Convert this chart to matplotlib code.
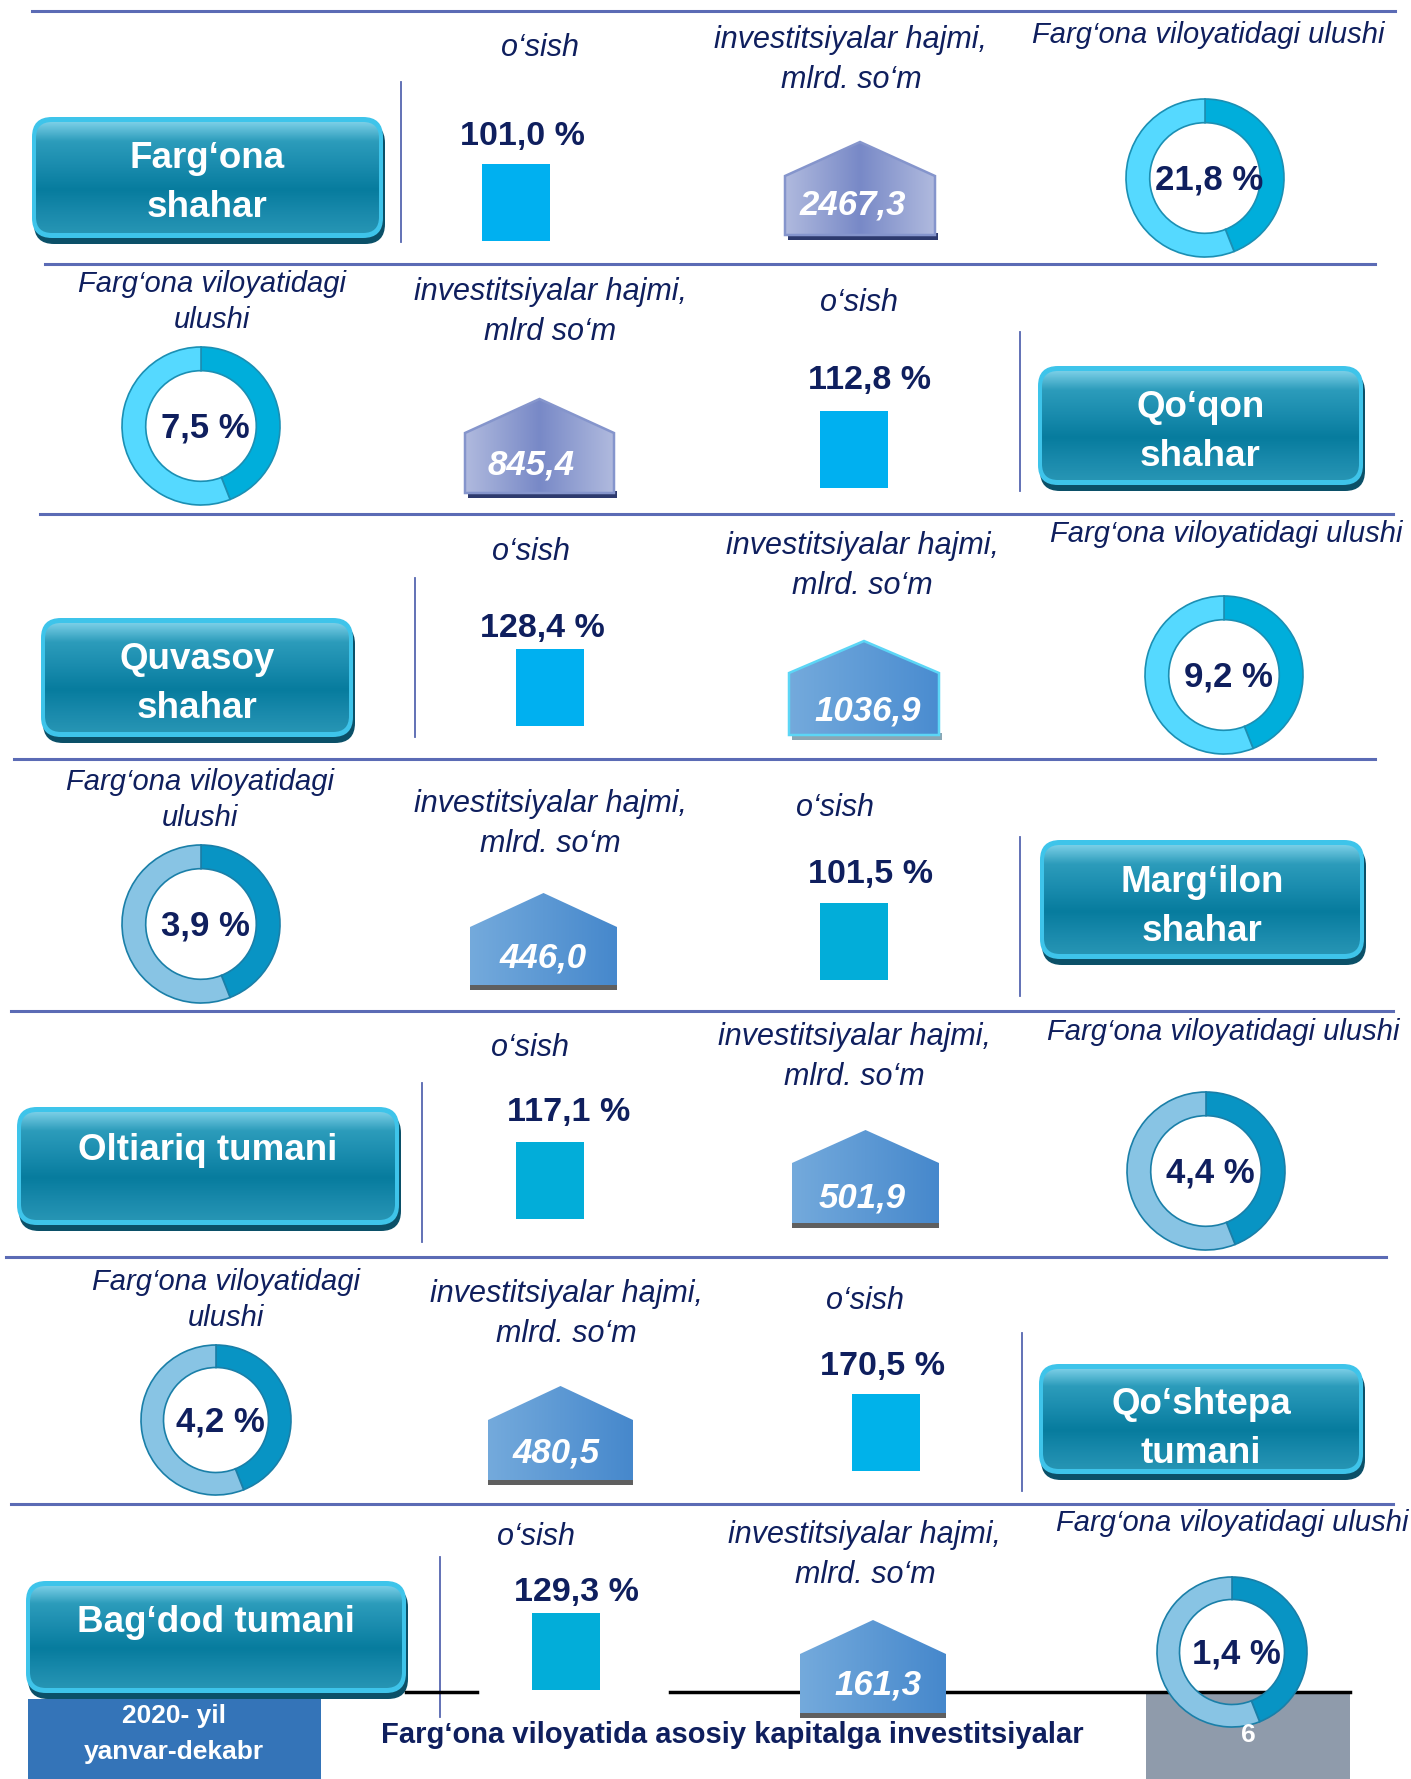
import numpy as np
import matplotlib.pyplot as plt
from matplotlib.patches import FancyBboxPatch, Polygon, Rectangle, Wedge
from matplotlib.colors import LinearSegmentedColormap
from matplotlib import font_manager

# values
districts = ["Farg‘ona\nshahar", "Qo‘qon\nshahar", "Quvasoy\nshahar", "Marg‘ilon\nshahar",
             "Oltiariq tumani", "Qo‘shtepa\ntumani", "Bag‘dod tumani"]
growth = [101.0, 112.8, 128.4, 101.5, 117.1, 170.5, 129.3]      # o'sish, %
invest = [2467.3, 845.4, 1036.9, 446.0, 501.9, 480.5, 161.3]    # mlrd. so'm
share = [21.8, 7.5, 9.2, 3.9, 4.4, 4.2, 1.4]                    # ulushi, %
invest_units = ["mlrd. so‘m", "mlrd so‘m", "mlrd. so‘m", "mlrd. so‘m",
                "mlrd. so‘m", "mlrd. so‘m", "mlrd. so‘m"]

title = "Farg‘ona viloyatida asosiy kapitalga investitsiyalar"
period = "2020- yil\nyanvar-dekabr"
page = "6"

# layout of each block, in pixels of the 1411x1779 slide
rows = [
    dict(btn=(32, 117, 383, 238), bty=183, vline=(401, 82, 242), os=(540, 48), val=(522, 137),
         sq=(482, 164), inv=(851, 60), house=(785, 935, 142, 176, 235), hval=(853, 205),
         shh=(1208, 35), two=False, donut=(1205, 178, 79), sep=(264, 45, 1375)),
    dict(btn=(1038, 366, 1363, 485), bty=432, vline=(1020, 332, 491), os=(859, 303), val=(869, 380),
         sq=(820, 411), inv=(550, 312), house=(465, 614, 399, 433, 493), hval=(531, 465),
         shh=(212, 302), two=True, donut=(201, 426, 79), sep=(514, 40, 1393)),
    dict(btn=(41, 618, 353, 737), bty=684, vline=(415, 578, 737), os=(531, 552), val=(542, 629),
         sq=(516, 649), inv=(862, 566), house=(789, 939, 641, 673, 735), hval=(868, 711),
         shh=(1226, 534), two=False, donut=(1224, 675, 79), sep=(759, 14, 1375)),
    dict(btn=(1040, 840, 1364, 959), bty=907, vline=(1020, 837, 996), os=(835, 808), val=(870, 874),
         sq=(820, 903), inv=(550, 824), house=(470, 617, 893, 927, 985), hval=(543, 958),
         shh=(200, 800), two=True, donut=(201, 924, 79), sep=(1011, 11, 1393)),
    dict(btn=(17, 1107, 399, 1225), bty=1150, vline=(422, 1083, 1242), os=(530, 1048), val=(569, 1112),
         sq=(516, 1142), inv=(854, 1057), house=(792, 939, 1130, 1163, 1223), hval=(862, 1198),
         shh=(1223, 1032), two=False, donut=(1206, 1171, 79), sep=(1257, 6, 1386)),
    dict(btn=(1039, 1364, 1363, 1474), bty=1429, vline=(1022, 1333, 1491), os=(865, 1301), val=(882, 1367),
         sq=(852, 1394), inv=(566, 1314), house=(488, 633, 1386, 1420, 1480), hval=(556, 1453),
         shh=(226, 1300), two=True, donut=(216, 1420, 75), sep=(1504, 11, 1393)),
    dict(btn=(26, 1581, 406, 1693), bty=1623, vline=(440, 1557, 1717), os=(536, 1537), val=(576, 1592),
         sq=(532, 1613), inv=(865, 1555), house=(800, 946, 1620, 1654, 1713), hval=(878, 1685),
         shh=(1232, 1523), two=False, donut=(1232, 1652, 75), sep=None),
]

avail = {f.name for f in font_manager.fontManager.ttflist}
FONT = 'Liberation Sans' if 'Liberation Sans' in avail else 'DejaVu Sans'
plt.rcParams['font.family'] = [FONT, 'DejaVu Sans']

NAVY = '#0f1f5e'
SEP = '#5b6bb5'

W, H = 1411, 1779
fig = plt.figure(figsize=(W / 100, H / 100), dpi=100)
ax = fig.add_axes([0, 0, 1, 1])


def fmt(v):
    return f"{v:.1f}".replace('.', ',')


def gradient_fill(clip, x0, x1, y0, y1, colors, horizontal=False, z=3):
    cmap = LinearSegmentedColormap.from_list('g', colors)
    g = np.linspace(0, 1, 256)
    arr = g.reshape(1, -1) if horizontal else g.reshape(-1, 1)
    im = ax.imshow(arr, cmap=cmap, extent=(x0, x1, y1, y0), origin='upper',
                   aspect='auto', zorder=z, interpolation='bicubic')
    im.set_clip_path(clip)


def button(box, ty, text):
    x0, y0, x1, y1 = box
    r = 20
    ax.add_patch(FancyBboxPatch((x0 + 2, y0 + 6), x1 - x0, y1 - y0,
                                boxstyle=f"round,pad=0,rounding_size={r}",
                                fc='#0b5068', ec='none', zorder=2))
    ax.add_patch(FancyBboxPatch((x0, y0), x1 - x0, y1 - y0,
                                boxstyle=f"round,pad=0,rounding_size={r}",
                                fc='#3ec4ea', ec='none', zorder=3))
    inner = FancyBboxPatch((x0 + 4, y0 + 5), x1 - x0 - 8, y1 - y0 - 10,
                           boxstyle=f"round,pad=0,rounding_size={r - 4}",
                           fc='none', ec='none', zorder=4)
    ax.add_patch(inner)
    gradient_fill(inner, x0, x1, y0, y1,
                  ['#8fdcf2', '#2c9cbb', '#1a8cae', '#077c9e', '#1a8aac', '#2a98b6'], z=4)
    ax.text((x0 + x1) / 2, ty, text, color='white', fontsize=26.5, fontweight='bold',
            ha='center', va='center', linespacing=1.55, zorder=6)


def house(geo, colors, edge, shadow, offset, value, pos):
    x0, x1, top, eave, bottom = geo
    ax.add_patch(Rectangle((x0 + offset, bottom - 2), x1 - x0, 7, fc=shadow, ec='none', zorder=3))
    pts = [(x0, bottom), (x0, eave), ((x0 + x1) / 2, top), (x1, eave), (x1, bottom)]
    body = Polygon(pts, closed=True, fc='none', ec='none', zorder=4)
    ax.add_patch(body)
    gradient_fill(body, x0, x1, top, bottom, colors, horizontal=True, z=4)
    if edge:
        ax.add_patch(Polygon(pts, closed=True, fc='none', ec=edge, lw=1.8, zorder=5))
    ax.text(pos[0], pos[1], fmt(value), color='white', fontsize=25, fontweight='bold',
            fontstyle='italic', ha='center', va='center', zorder=6)


def donut(geo, value, light, dark, edge):
    cx, cy, R = geo
    a = -90 + 360 * 0.44
    ax.add_patch(Wedge((cx, cy), R, -90, a, width=R * 0.3, fc=dark, ec=edge, lw=1.2, zorder=5))
    ax.add_patch(Wedge((cx, cy), R, a, 270, width=R * 0.3, fc=light, ec=edge, lw=1.2, zorder=5))
    ax.text(cx + 4, cy + 2, f"{fmt(value)} %", color=NAVY, fontsize=25, fontweight='bold',
            ha='center', va='center', zorder=6)


house_styles = [
    (['#b0bade', '#7889c7', '#b0bade'], '#8595cc', '#2d3a6e', 3),
    (['#b0bade', '#7889c7', '#b0bade'], '#8595cc', '#2d3a6e', 3),
    (['#74aadc', '#4a8cd0'], '#5cd6f6', '#8aa6b4', 3),
    (['#74aadc', '#4688cc'], None, '#5f5f5f', 0),
    (['#74aadc', '#4688cc'], None, '#5f5f5f', 0),
    (['#74aadc', '#4688cc'], None, '#5f5f5f', 0),
    (['#74aadc', '#4688cc'], None, '#5f5f5f', 0),
]
square_colors = ['#00b0f0', '#00b0f0', '#00b0f0', '#02add9', '#02add9', '#00b2ea', '#02add9']
ring_bright = ('#55d9ff', '#00aedb', '#1b8fb3')
ring_soft = ('#88c4e4', '#0894c4', '#1a7fa8')

# top rule
ax.plot([32, 1395], [11, 11], color=SEP, lw=2.2, zorder=1)

for i, r in enumerate(rows):
    button(r['btn'], r['bty'], districts[i])
    vx, vy0, vy1 = r['vline']
    ax.plot([vx, vx], [vy0, vy1], color='#5566b0', lw=1.3, zorder=1)

    ax.text(*r['os'], "o‘sish", color=NAVY, fontsize=22, fontstyle='italic',
            ha='center', va='center', zorder=6)
    ax.text(*r['val'], f"{fmt(growth[i])} %", color=NAVY, fontsize=24.5, fontweight='bold',
            ha='center', va='center', zorder=6)
    ax.add_patch(Rectangle(r['sq'], 68, 77, fc=square_colors[i], ec='none', zorder=4))

    ax.text(*r['inv'], "investitsiyalar hajmi,\n" + invest_units[i], color=NAVY, fontsize=22,
            fontstyle='italic', ha='center', va='center', linespacing=1.4, zorder=6)
    cols, edge, shad, off = house_styles[i]
    house(r['house'], cols, edge, shad, off, invest[i], r['hval'])

    hdr = "Farg‘ona viloyatidagi\nulushi" if r['two'] else "Farg‘ona viloyatidagi ulushi"
    ax.text(*r['shh'], hdr, color=NAVY, fontsize=21, fontstyle='italic',
            ha='center', va='center', linespacing=1.4, zorder=6)
    donut(r['donut'], share[i], *(ring_bright if i < 3 else ring_soft))

    if r['sep']:
        sy, sx0, sx1 = r['sep']
        ax.plot([sx0, sx1], [sy, sy], color=SEP, lw=2.2, zorder=1)

# footer
ax.add_patch(Rectangle((1146, 1692), 204, 90, fc='#8f9bab', ec='none', zorder=1))
ax.plot([406, 477], [1692, 1692], color='black', lw=2.5, zorder=2)
ax.plot([670, 1350], [1692, 1692], color='black', lw=2.5, zorder=2)
ax.add_patch(Rectangle((28, 1699), 293, 82, fc='#3474b8', ec='none', zorder=1))
ax.text(174, 1734, period, color='white', fontsize=19, fontweight='bold',
        ha='center', va='center', linespacing=1.6, zorder=6)
ax.text(732, 1735, title, color=NAVY, fontsize=21, fontweight='bold',
        ha='center', va='center', zorder=6)
ax.text(1248, 1735, page, color='white', fontsize=19, fontweight='bold',
        ha='center', va='center', zorder=6)

ax.set_xlim(0, W)
ax.set_ylim(H, 0)
ax.axis('off')
fig.savefig('out.png', dpi=100)
